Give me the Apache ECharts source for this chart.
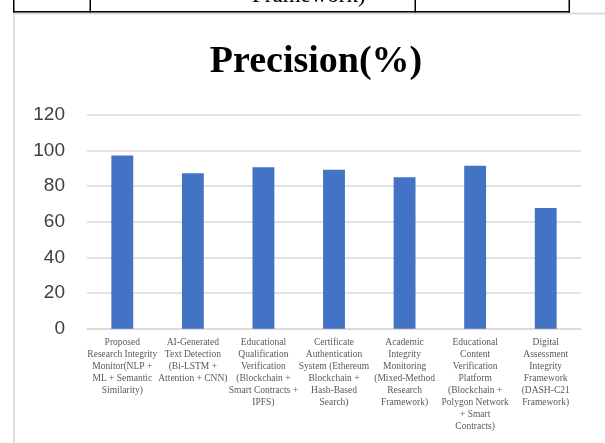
<!DOCTYPE html>
<html>
<head>
<meta charset="utf-8">
<script src="https://cdn.jsdelivr.net/npm/echarts@6/dist/echarts.min.js"></script>
<style>
html,body{margin:0;padding:0;background:#fff;}
#c{width:605px;height:443px;}
</style>
</head>
<body>
<div id="c"></div>
<script>
const titleText = 'Precision(%)';
const categories = [
  'Proposed\nResearch Integrity\nMonitor(NLP +\nML + Semantic\nSimilarity)',
  'AI-Generated\nText Detection\n(Bi-LSTM +\nAttention + CNN)',
  'Educational\nQualification\nVerification\n(Blockchain +\nSmart Contracts +\nIPFS)',
  'Certificate\nAuthentication\nSystem (Ethereum\nBlockchain +\nHash-Based\nSearch)',
  'Academic\nIntegrity\nMonitoring\n(Mixed-Method\nResearch\nFramework)',
  'Educational\nContent\nVerification\nPlatform\n(Blockchain +\nPolygon Network\n+ Smart\nContracts)',
  'Digital\nAssessment\nIntegrity\nFramework\n(DASH-C21\nFramework)'
];
const precision = [97.1, 87.1, 90.5, 89.2, 84.9, 91.4, 67.7];
const yTicks = { min: 0, max: 120, interval: 20 };
const tableText = 'Framework)';

const chart = echarts.init(document.getElementById('c'));
chart.setOption({
  backgroundColor: '#ffffff',
  animation: false,
  title: {
    text: titleText,
    left: 311,
    textAlign: 'center',
    top: 38,
    textStyle: { fontFamily: 'Liberation Serif', fontWeight: 'bold', fontSize: 38, color: '#000' }
  },
  grid: { left: 87, right: 24, top: 114.7, bottom: 114.3, containLabel: false },
  xAxis: {
    type: 'category',
    data: categories,
    axisLine: { show: true, lineStyle: { color: '#d9d9d9', width: 1.5 } },
    axisTick: { show: false },
    axisLabel: {
      interval: 0,
      margin: 8,
      fontFamily: 'Liberation Serif',
      fontSize: 9.5,
      lineHeight: 12,
      color: '#595959'
    }
  },
  yAxis: {
    type: 'value',
    min: yTicks.min, max: yTicks.max, interval: yTicks.interval,
    axisLine: { show: false },
    axisTick: { show: false },
    splitLine: { lineStyle: { color: '#d9d9d9', width: 1.5 } },
    axisLabel: { margin: 22, fontFamily: 'Liberation Sans', fontSize: 19, color: '#404040' }
  },
  series: [{
    type: 'bar',
    data: precision,
    barWidth: '31%',
    itemStyle: { color: '#4472C4' }
  }],
  graphic: [
    { type: 'text', left: 252, top: -16, style: { text: tableText, font: '23px "Liberation Serif"', fill: '#000', textAlign: 'center' }, z: 10 },
    { type: 'rect', shape: { x: 13, y: 12.5, width: 592, height: 2 }, style: { fill: '#dcdcdc' }, z: 9 },
    { type: 'rect', shape: { x: 13, y: 12.5, width: 2, height: 431 }, style: { fill: '#dcdcdc' }, z: 9 },
    { type: 'rect', shape: { x: 13, y: 11, width: 557, height: 1.5 }, style: { fill: '#000' }, z: 11 },
    { type: 'rect', shape: { x: 13, y: 0, width: 1.5, height: 12.5 }, style: { fill: '#000' }, z: 11 },
    { type: 'rect', shape: { x: 89.5, y: 0, width: 1.5, height: 12.5 }, style: { fill: '#000' }, z: 11 },
    { type: 'rect', shape: { x: 414.5, y: 0, width: 1.5, height: 12.5 }, style: { fill: '#000' }, z: 11 },
    { type: 'rect', shape: { x: 568.5, y: 0, width: 1.5, height: 12.5 }, style: { fill: '#000' }, z: 11 }
  ]
});
</script>
</body>
</html>
